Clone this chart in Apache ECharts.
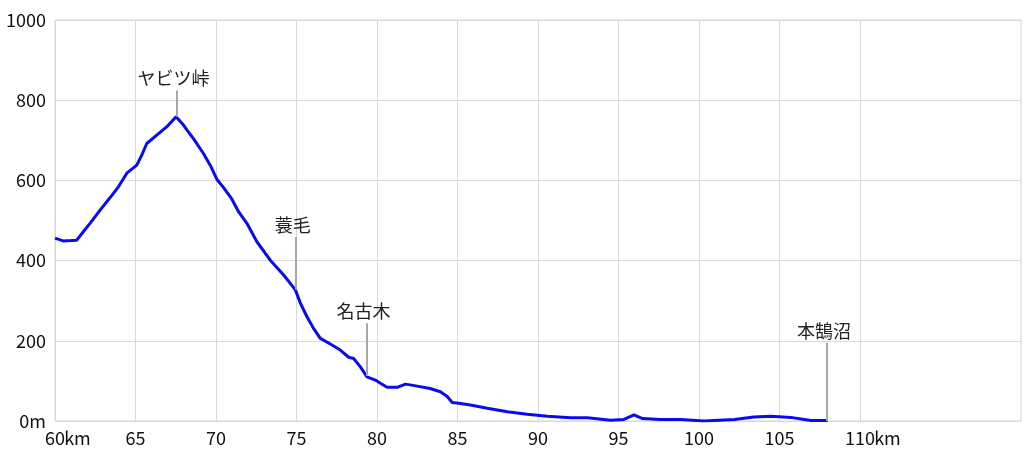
<!DOCTYPE html>
<html>
<head>
<meta charset="utf-8">
<script src="https://cdn.jsdelivr.net/npm/echarts@6/dist/echarts.min.js"></script>
<style>html,body{margin:0;padding:0;background:#fff}#c{width:1024px;height:455px}</style>
</head>
<body>
<div id="c"></div>
<script>
const distanceKm = [60.0,60.5,61.0,61.35,61.76,62.2,62.8,63.4,63.94,64.46,65.08,65.39,65.7,66.32,66.95,67.52,67.98,68.19,68.6,69.22,69.64,70.05,70.47,70.99,71.4,71.92,72.54,73.37,74.2,74.93,75.24,75.65,76.06,76.48,77.1,77.72,78.24,78.55,78.97,79.38,79.9,80.21,80.63,81.25,81.77,82.5,83.3,83.94,84.36,84.67,85.08,85.8,86.85,88.09,89.33,90.58,92.03,93.07,94.5,95.34,95.96,96.49,97.62,98.86,100.3,102.2,103.4,104.47,105.7,106.95,108.0];
const elevationM = [456,449,450,451,472,494,526,556,584,618,638,663,692,713,734,759,738,726,704,667,638,603,582,553,522,493,447,401,364,327,294,260,231,206,192,177,159,156,135,110,102,94,84,84,92,87,81,73,61,46,44,40,32,23,17,12,8,8,2,4,15,6,4,4,0,4,10,12,9,1,1];

const xTicks = [60,65,70,75,80,85,90,95,100,105,110];
const yTicks = [0,200,400,600,800,1000];

const placeNames = ['ヤビツ峠','蓑毛','名古木','本鵠沼'];
const placeKm = [67.55,74.95,79.35,107.95];
const placeElev = [759,327,112,0];
const placeLabelElev = [824,459,244,195];

const chart = echarts.init(document.getElementById('c'));
const font = '"Noto Sans CJK JP", "DejaVu Sans", sans-serif';

chart.setOption({
  animation: false,
  grid: {left: 55, top: 20, right: 3, bottom: 34, show: true, borderColor: '#d4d4d4', borderWidth: 1},
  xAxis: {
    type: 'value', min: 60, max: 120, interval: 5,
    axisLine: {show: false},
    axisTick: {show: false, customValues: xTicks},
    splitLine: {show: true, lineStyle: {color: '#d9d9d9', width: 1}},
    axisLabel: {
      customValues: xTicks,
      margin: 8, fontSize: 18, color: '#111', fontFamily: font,
      formatter: v => (v === 60 || v === 110) ? '{p|}' + v + '{u|km}' : String(v),
      rich: {
        p: {width: 25, fontSize: 18, fontFamily: font},
        u: {width: 25, fontSize: 18, color: '#111', fontFamily: font}
      }
    }
  },
  yAxis: {
    type: 'value', min: 0, max: 1000, interval: 200,
    axisLine: {show: false},
    axisTick: {show: false},
    splitLine: {show: true, lineStyle: {color: '#d9d9d9', width: 1}},
    axisLabel: {
      margin: 9, fontSize: 18, color: '#111', fontFamily: font,
      formatter: v => v === 0 ? '0m' : String(v)
    }
  },
  series: [{
    type: 'line',
    data: distanceKm.map((k, i) => [k, elevationM[i]]),
    showSymbol: false,
    lineStyle: {color: '#0a0af0', width: 3},
    z: 3,
    markLine: {
      silent: true,
      symbol: ['none', 'none'],
      lineStyle: {color: '#a8a8a8', width: 2, type: 'solid'},
      label: {show: true, position: 'end', distance: 3, formatter: p => p.name, fontSize: 18, color: '#222', fontFamily: font, offset: [-3, 0]},
      data: placeNames.map((n, i) => [
        {name: n, coord: [placeKm[i], placeElev[i]]},
        {coord: [placeKm[i], placeLabelElev[i]]}
      ])
    }
  }]
});
</script>
</body>
</html>
